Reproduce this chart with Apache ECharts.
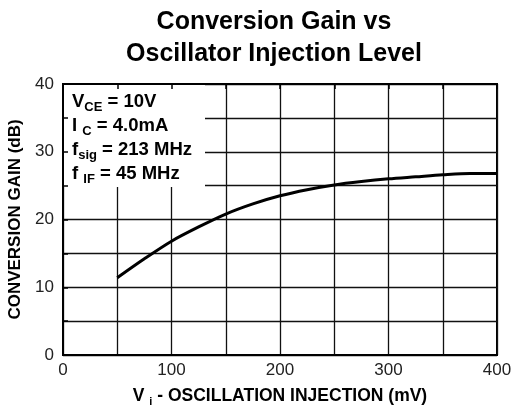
<!DOCTYPE html>
<html>
<head>
<meta charset="utf-8">
<script src="https://cdn.jsdelivr.net/npm/echarts@6/dist/echarts.min.js"></script>
<style>
  html, body { margin: 0; padding: 0; background: #fff; }
  #chart { width: 513px; height: 409px; }
</style>
</head>
<body>
<div id="chart"></div>
<script>
// curve: injection level (mV) -> conversion gain (dB)
const injection = [50, 75, 100, 125, 150, 175, 200, 225, 250, 275, 300, 325, 350, 375, 400];
const gain = [11.4, 14.2, 16.8, 18.9, 20.8, 22.3, 23.5, 24.4, 25.1, 25.6, 26.0, 26.3, 26.6, 26.8, 26.8];
const xTickLabels = [0, 100, 200, 300, 400];
const yTickLabels = [0, 10, 20, 30, 40];
const conditions = [
  ["V", "CE", " = 10V"],
  ["I ", "C", " = 4.0mA"],
  ["f", "sig", " = 213 MHz"],
  ["f ", "IF", " = 45 MHz"],
];

const FONT = "Liberation Sans, Arial, sans-serif";
const chart = echarts.init(document.getElementById("chart"));

const gridLeft = 63, gridTop = 84, gridRight = 16, gridBottom = 54;

const conditionText = conditions
  .map((c) => `{m|${c[0]}}{s|${c[1]}}{m|${c[2]}}`)
  .join("\n");

// axes that only draw the frame + inward ticks, on a layer above the legend box
const tickAxis = (extra) => Object.assign({
  type: "value",
  zlevel: 1,
  axisLine: { show: true, onZero: false, lineStyle: { color: "#000", width: 2 } },
  axisTick: { show: true, inside: true, length: 5, lineStyle: { color: "#000", width: 1.5 } },
  axisLabel: { show: false },
  splitLine: { show: false },
}, extra);

const option = {
  animation: false,
  backgroundColor: "#fff",
  title: {
    text: "Conversion Gain vs\nOscillator Injection Level",
    left: 269,
    top: 1,
    textAlign: "center",
    textStyle: {
      fontFamily: FONT,
      fontWeight: "bold",
      fontSize: 25,
      lineHeight: 32,
      color: "#000",
    },
  },
  grid: {
    left: gridLeft,
    top: gridTop,
    right: gridRight,
    bottom: gridBottom,
    outerBoundsMode: "none",
    show: true,
    borderColor: "#000",
    borderWidth: 2,
  },
  xAxis: [
    {
      type: "value",
      min: 0,
      max: 400,
      interval: 50,
      name: "{m|V }{s|i}{m| - OSCILLATION INJECTION (mV)}",
      nameLocation: "middle",
      nameGap: 30,
      nameTextStyle: {
        rich: {
          m: { fontFamily: FONT, fontWeight: "bold", fontSize: 17.5, color: "#000", lineHeight: 22 },
          s: { fontFamily: FONT, fontWeight: "bold", fontSize: 11, color: "#000", lineHeight: 13, verticalAlign: "bottom" },
        },
      },
      axisLine: { show: true, onZero: false, lineStyle: { color: "#000", width: 2 } },
      axisTick: { show: false },
      axisLabel: {
        fontFamily: FONT,
        fontSize: 17,
        color: "#222",
        margin: 7,
        formatter: (v) => (xTickLabels.includes(v) ? String(v) : ""),
      },
      splitLine: { show: true, lineStyle: { color: "#111", width: 1.3 } },
    },
    tickAxis({ position: "top", min: 0, max: 400, interval: 50 }),
  ],
  yAxis: [
    {
      type: "value",
      min: 0,
      max: 40,
      interval: 5,
      name: "CONVERSION GAIN (dB)",
      nameLocation: "middle",
      nameGap: 27,
      nameTextStyle: {
        fontFamily: FONT,
        fontWeight: "bold",
        fontSize: 17,
        color: "#000",
      },
      axisLine: { show: true, onZero: false, lineStyle: { color: "#000", width: 2 } },
      axisTick: { show: false },
      axisLabel: {
        fontFamily: FONT,
        fontSize: 17,
        color: "#222",
        margin: 9,
        formatter: (v) => (yTickLabels.includes(v) ? String(v) : ""),
      },
      splitLine: { show: true, lineStyle: { color: "#111", width: 1.3 } },
    },
    tickAxis({ position: "left", min: 0, max: 40, interval: 5 }),
  ],
  graphic: [
    {
      type: "rect",
      z: 1,
      shape: { x: gridLeft, y: gridTop, width: 142, height: 103 },
      style: { fill: "#fff" },
      silent: true,
    },
    {
      type: "text",
      zlevel: 1,
      z: 5,
      left: 72,
      top: 92,
      style: {
        text: conditionText,
        rich: {
          m: { fontFamily: FONT, fontWeight: "bold", fontSize: 18.5, lineHeight: 24, fill: "#000" },
          s: { fontFamily: FONT, fontWeight: "bold", fontSize: 13, lineHeight: 15, fill: "#000", verticalAlign: "bottom" },
        },
      },
      silent: true,
    },
  ],
  series: [
    {
      type: "line",
      xAxisIndex: 0,
      yAxisIndex: 0,
      z: 4,
      data: injection.map((x, i) => [x, gain[i]]),
      smooth: 0.3,
      showSymbol: false,
      lineStyle: { color: "#000", width: 3 },
    },
  ],
};

chart.setOption(option);
</script>
</body>
</html>
